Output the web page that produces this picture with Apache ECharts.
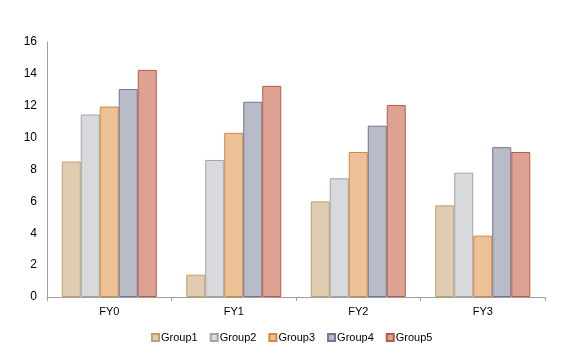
<!DOCTYPE html>
<html><head><meta charset="utf-8">
<script src="https://cdn.jsdelivr.net/npm/echarts@6/dist/echarts.min.js"></script>
<style>html,body{margin:0;padding:0;background:#fff}#c{width:561px;height:363px}</style>
</head><body><div id="c"></div>
<script>
var categories = ['FY0','FY1','FY2','FY3'];
var seriesNames = ['Group1','Group2','Group3','Group4','Group5'];
var group1 = [8.5, 1.4, 6.0, 5.75];
var group2 = [11.45, 8.6, 7.45, 7.8];
var group3 = [11.95, 10.3, 9.1, 3.85];
var group4 = [13.05, 12.25, 10.75, 9.4];
var group5 = [14.25, 13.25, 12.05, 9.1];
var yTicks = [0,2,4,6,8,10,12,14,16];

var fills = ['#e0ccb0','#d8d9dc','#ecc196','#b8bcc8','#dda291'];
var borders = ['#c29e6c','#a2a3a8','#d3873f','#717591','#b35c4a'];
var data = [group1, group2, group3, group4, group5];

var chart = echarts.init(document.getElementById('c'));
chart.setOption({
  animation: false,
  grid: {left: 47, right: 16, top: 42, bottom: 66},
  legend: {
    top: 327, left: 146,
    itemWidth: 7, itemHeight: 7, itemGap: 12,
    icon: 'rect',
    textStyle: {fontFamily: 'Liberation Sans', fontSize: 11, color: '#000', padding: [0,0,0,-3]},
    data: seriesNames
  },
  xAxis: {
    type: 'category', data: categories,
    axisLine: {lineStyle: {color: '#a0a0a0'}},
    axisTick: {show: true, length: 4, lineStyle: {color: '#a0a0a0'}},
    axisLabel: {fontFamily: 'Liberation Sans', fontSize: 11, color: '#000', margin: 9}
  },
  yAxis: {
    type: 'value', min: yTicks[0], max: yTicks[yTicks.length-1], interval: 2,
    axisLine: {show: true, lineStyle: {color: '#a0a0a0'}},
    axisTick: {show: false},
    splitLine: {show: false},
    axisLabel: {fontFamily: 'Liberation Sans', fontSize: 12, color: '#000', margin: 10}
  },
  series: seriesNames.map(function(n, i){
    return {
      name: n, type: 'bar', data: data[i],
      barWidth: 19, barGap: '0%',
      itemStyle: {color: fills[i], borderColor: borders[i], borderWidth: 1}
    };
  })
});
</script></body></html>
